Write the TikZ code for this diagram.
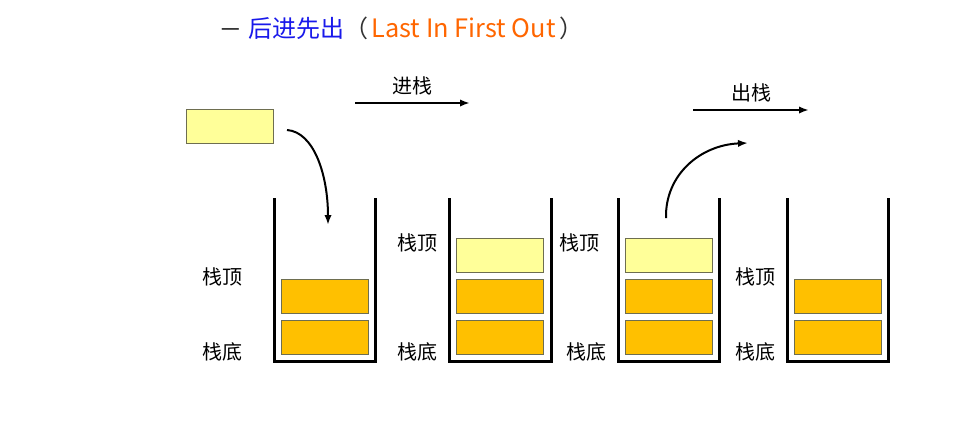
\documentclass[tikz,border=0pt]{standalone}
\usepackage{fontspec}
\setmainfont{Noto Sans CJK SC}
\usetikzlibrary{arrows.meta,positioning}
\definecolor{boxorange}{RGB}{255,192,0}
\definecolor{boxyellow}{RGB}{255,255,153}
\definecolor{boxedge}{RGB}{110,110,80}
\definecolor{lifoblue}{RGB}{25,25,235}
\definecolor{lifoorange}{RGB}{255,102,0}

\begin{document}
\begin{tikzpicture}[
  x=0.75pt, y=-0.75pt,
  node distance=4.5pt,
  cell/.style={draw=boxedge, line width=0.75pt, minimum width=65.25pt,
               minimum height=25.5pt, inner sep=0pt},
  old/.style={cell, fill=boxorange},
  new/.style={cell, fill=boxyellow},
  wall/.style={line width=2.25pt},
  lbl/.style={font=\fontsize{15}{18}\selectfont, inner sep=0pt},
  arr/.style={-{Latex[length=7.5pt, width=5.5pt]}, line width=1.5pt}
]
\path[fill=white] (0,0) rectangle (964,446);
\useasboundingbox (0,0) rectangle (964,446);
\node[anchor=west, inner sep=0pt, font=\fontsize{18}{22}\selectfont, text=black!80] (title) at (220,28)
  {\scalebox{1.6}[1.2]{–}\hspace{0.33em}\textcolor{lifoblue}{后进先出}（\hspace{0.12em}%
   \textcolor{lifoorange}{\fontsize{19}{22}\selectfont Last In First Out}\hspace{0.15em}）};
\node[new] (item) at (230,126.5) {};
\node[old] (a1) at (324.5,337) {};
\node[old, above=of a1] (a2) {};
\node[old] (b1) at (500,337) {};
\node[old, above=of b1] (b2) {};
\node[new, above=of b2] (b3) {};
\node[old] (c1) at (669,337) {};
\node[old, above=of c1] (c2) {};
\node[new, above=of c2] (c3) {};
\node[old] (d1) at (838,337) {};
\node[old, above=of d1] (d2) {};
\node[lbl] (a-top) at (222,277) {栈顶};
\node[lbl] (a-bot) at (222,352) {栈底};
\node[lbl] (b-top) at (417,243) {栈顶};
\node[lbl] (b-bot) at (417,352) {栈底};
\node[lbl] (c-top) at (579,243) {栈顶};
\node[lbl] (c-bot) at (586,352) {栈底};
\node[lbl] (d-top) at (755,277) {栈顶};
\node[lbl] (d-bot) at (755,352) {栈底};
\draw[wall] (274,198) |- (375,361) -- (375,198);
\draw[wall] (449,198) |- (551,361) -- (551,198);
\draw[wall] (618,198) |- (719,361) -- (719,198);
\draw[wall] (787,198) |- (888,361) -- (888,198);
\coordinate (push0) at (355,103);
\coordinate (push1) at (470,103);
\draw[arr] (push0) -- node[lbl, above=5pt] (push) {进栈} (push1);
\coordinate (drop0) at (287,130);
\coordinate (drop1) at (328,225);
\draw[arr] (drop0) .. controls (314,132) and (328,175) .. (drop1);
\coordinate (pop0) at (693,110);
\coordinate (pop1) at (809,110);
\draw[arr] (pop0) -- node[lbl, above=5pt] (pop) {出栈} (pop1);
\coordinate (lift0) at (666,218);
\coordinate (lift1) at (748,143);
\draw[arr] (lift0) .. controls (665,175) and (700,145) .. (lift1);
\end{tikzpicture}
\end{document}
